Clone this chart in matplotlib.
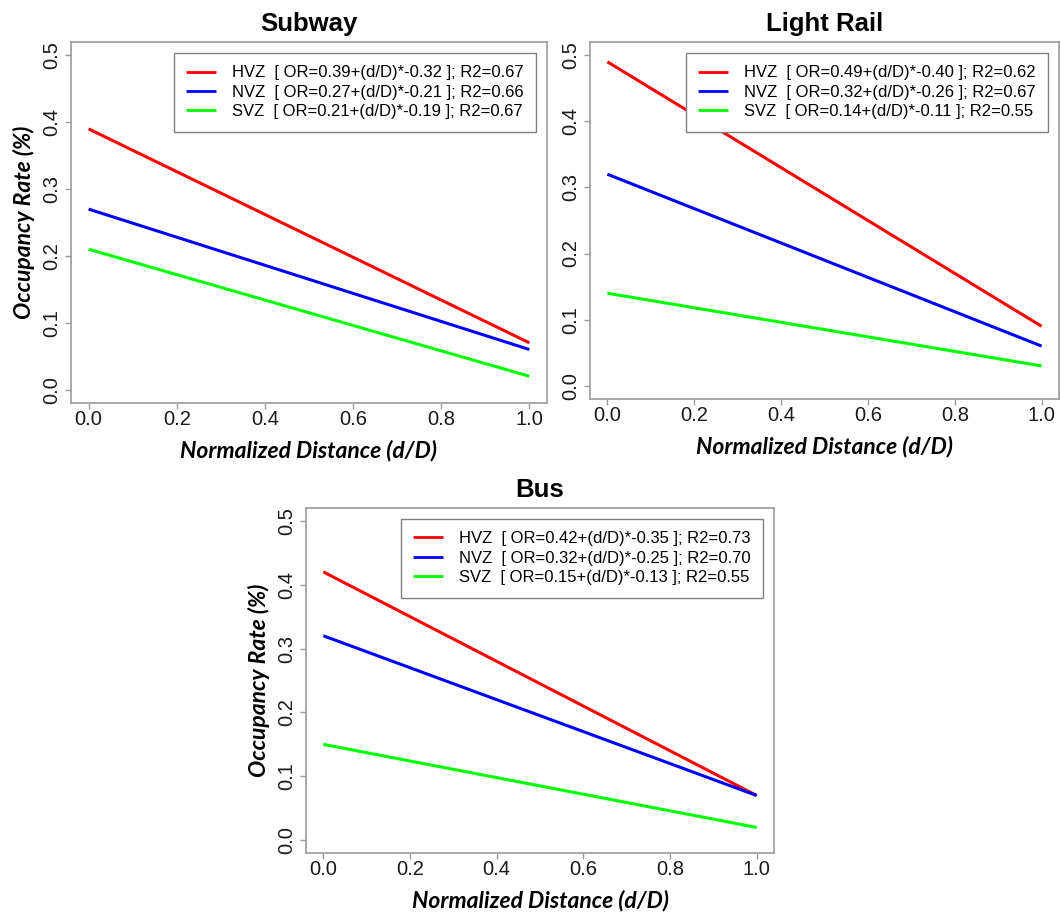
import matplotlib
matplotlib.use("Agg")
import matplotlib.pyplot as plt

plt.rcParams['font.family'] = ['Liberation Sans', 'DejaVu Sans']

W, H = 1061, 917

distance = [0.0, 1.0]
zones = ["HVZ", "NVZ", "SVZ"]
zone_colors = ["#ff0000", "#0000ff", "#00ff00"]
x_ticks = [0.0, 0.2, 0.4, 0.6, 0.8, 1.0]
y_ticks = [0.0, 0.1, 0.2, 0.3, 0.4, 0.5]

# Subway
subway_start = [0.39, 0.27, 0.21]
subway_end = [0.07, 0.06, 0.02]
subway_intercept = [0.39, 0.27, 0.21]
subway_slope = [-0.32, -0.21, -0.19]
subway_r2 = [0.67, 0.66, 0.67]

# Light Rail
rail_start = [0.49, 0.32, 0.14]
rail_end = [0.09, 0.06, 0.03]
rail_intercept = [0.49, 0.32, 0.14]
rail_slope = [-0.40, -0.26, -0.11]
rail_r2 = [0.62, 0.67, 0.55]

# Bus
bus_start = [0.42, 0.32, 0.15]
bus_end = [0.07, 0.07, 0.02]
bus_intercept = [0.42, 0.32, 0.15]
bus_slope = [-0.35, -0.25, -0.13]
bus_r2 = [0.73, 0.70, 0.55]

box_col = '#9a9a9a'
lab_font = dict(family='Lato', style='italic', weight='bold', size=16.5)

fig = plt.figure(figsize=(W / 100, H / 100), dpi=100)


def px_axes(l, t, r, b):
    return fig.add_axes([l / W, 1 - b / H, (r - l) / W, (b - t) / H])


def panel(ax, title, start, end, icpt, slope, r2, ylab=True):
    for z, c, s, e, a, b, r in zip(zones, zone_colors, start, end, icpt, slope, r2):
        lbl = f"{z}  [ OR={a:.2f}+(d/D)*{b:.2f} ]; R2={r:.2f}"
        ax.plot(distance, [s, e], color=c, lw=2.2, label=lbl, solid_capstyle='butt')
    ax.set_xlim(-0.04, 1.04)
    ax.set_ylim(-0.02, 0.52)
    ax.set_xticks(x_ticks, [f"{v:.1f}" for v in x_ticks])
    ax.set_yticks(y_ticks, [f"{v:.1f}" for v in y_ticks], rotation=90, va='center')
    for sp in ax.spines.values():
        sp.set_color(box_col)
        sp.set_linewidth(1.2)
    ax.tick_params(length=4, width=1, color=box_col, labelsize=14.5, labelcolor='#1a1a1a')
    ax.tick_params(axis='x', pad=1)
    ax.tick_params(axis='y', pad=3)
    ax.set_title(title, fontsize=18.5, fontweight='bold', pad=8)
    ax.set_xlabel('Normalized Distance (d/D)', fontdict=lab_font, labelpad=8)
    if ylab:
        ax.set_ylabel('Occupancy Rate (%)', fontdict=lab_font, labelpad=5)
    leg = ax.legend(loc='upper right', borderaxespad=0.65, fontsize=12, fancybox=False,
                    edgecolor='#808080', framealpha=1, handlelength=1.8,
                    handletextpad=0.95, labelspacing=0.26, borderpad=0.75)
    leg.get_frame().set_linewidth(1.0)
    for ln in leg.get_lines():
        ln.set_linewidth(2)


ax1 = px_axes(71, 42, 547, 403)
panel(ax1, 'Subway', subway_start, subway_end, subway_intercept, subway_slope, subway_r2)

ax2 = px_axes(590, 42, 1059, 399)
panel(ax2, 'Light Rail', rail_start, rail_end, rail_intercept, rail_slope, rail_r2, ylab=False)

ax3 = px_axes(306, 508, 774, 853)
panel(ax3, 'Bus', bus_start, bus_end, bus_intercept, bus_slope, bus_r2)

fig.savefig('out.png', dpi=100)
